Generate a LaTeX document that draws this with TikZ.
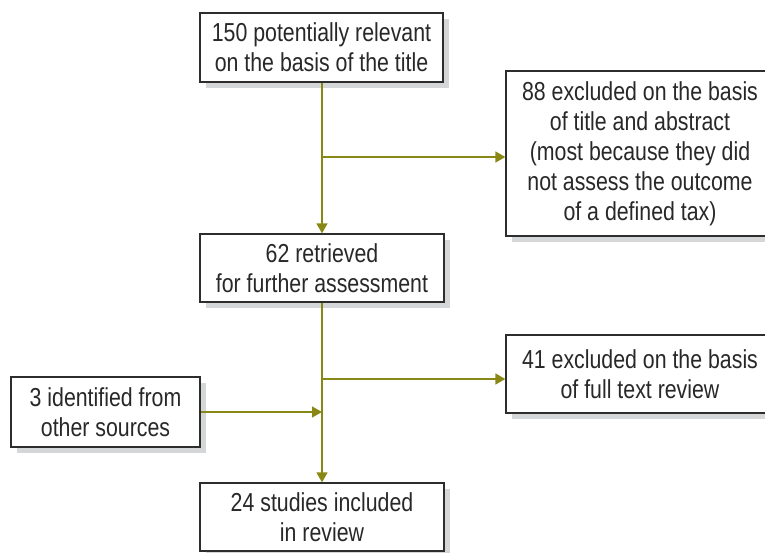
\documentclass[tikz,border=0pt]{standalone}
\usepackage{fontspec}
\setmainfont{Liberation Sans}[FakeStretch=0.82]
\usetikzlibrary{arrows.meta,shadows}
\definecolor{arrcol}{RGB}{138,136,20}
\definecolor{boxline}{RGB}{45,45,45}
\definecolor{txtcol}{RGB}{40,40,40}
\definecolor{shadowcol}{RGB}{212,214,216}
\tikzset{
  flowbox/.style={draw=boxline, line width=1.3pt, fill=white, text=txtcol,
    align=center, inner sep=0pt, font=\fontsize{26}{30}\selectfont,
    drop shadow={shadow xshift=6pt, shadow yshift=-6pt, fill=shadowcol, opacity=1}},
  arr/.style={draw=arrcol, line width=1.5pt, -{Triangle[length=10pt,width=11pt]}}
}
\begin{document}
\begin{tikzpicture}[x=1pt,y=-1pt]
\useasboundingbox (0,0) rectangle (765,552);
\clip (0,0) rectangle (765,552);
\node[flowbox, minimum width=243pt, minimum height=69pt] (b1) at (321.5,47.5)
  {150 potentially relevant\\on the basis of the title};
\node[flowbox, minimum width=268pt, minimum height=165pt] (r1) at (640,153.5)
  {88 excluded on the basis\\of title and abstract\\(most because they did\\not assess the outcome\\of a defined tax)};
\node[flowbox, minimum width=244pt, minimum height=68pt] (b2) at (322,268)
  {62 retrieved\\for further assessment};
\node[flowbox, minimum width=268pt, minimum height=78pt] (r2) at (640,374)
  {41 excluded on the basis\\of full text review};
\node[flowbox, minimum width=189pt, minimum height=70pt] (l1) at (105.5,412)
  {3 identified from\\other sources};
\node[flowbox, minimum width=244pt, minimum height=68pt] (b3) at (322,517)
  {24 studies included\\in review};
\coordinate (j1) at (322,157);
\coordinate (j2) at (322,379);
\coordinate (j3) at (322,412);
\draw[arr] (b1.south -| j1) -- (b2.north -| j1);
\draw[arr] (j1) -- (j1 -| r1.west);
\draw[arr] (b2.south -| j2) -- (b3.north -| j2);
\draw[arr] (j2) -- (j2 -| r2.west);
\draw[arr] (l1.east |- j3) -- (j3);
\end{tikzpicture}
\end{document}
